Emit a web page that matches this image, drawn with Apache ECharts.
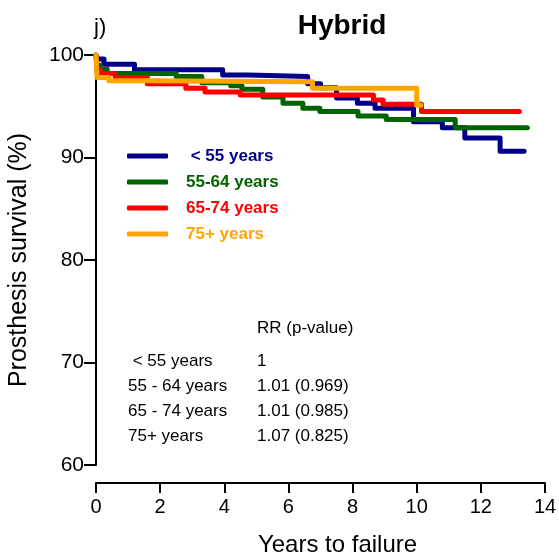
<!DOCTYPE html>
<html>
<head>
<meta charset="utf-8">
<script src="https://cdn.jsdelivr.net/npm/echarts@6/dist/echarts.min.js"></script>
<style>
html,body{margin:0;padding:0;background:#fff;}
#chart{width:559px;height:555px;}
</style>
</head>
<body>
<div id="chart"></div>
<script>
// ---- data ----
const seriesNames = ['< 55 years', '55-64 years', '65-74 years', '75+ years'];
const seriesColors = ['#00008B', '#006400', '#FF0000', '#FFA500'];
const blue = [[0,100],[0.05,99.6],[0.25,99.1],[1.2,98.55],[3.95,98.05],[4.75,97.9],[6.6,97.2],[7.0,96.8],[7.5,95.8],[8.15,95.3],[8.7,94.8],[9.9,93.5],[10.8,92.9],[11.5,91.9],[12.6,90.6],[13.35,90.6]];
const green = [[0,100],[0.03,99.0],[0.12,98.6],[0.35,98.2],[2.5,97.9],[3.3,97.3],[4.2,97.0],[4.55,96.65],[5.2,95.9],[5.83,95.3],[6.45,94.8],[6.98,94.5],[8.17,94.05],[9.05,93.7],[11.2,92.9],[13.45,92.9]];
const red = [[0,100],[0.03,98.5],[0.15,98.2],[0.6,97.8],[1.6,97.2],[2.8,96.75],[3.4,96.4],[4.5,96.1],[8.65,95.6],[8.95,95.2],[10.15,94.5],[13.2,94.5]];
const orange = [[0,100],[0.03,97.8],[0.4,97.5],[1.5,97.4],[6.75,96.75],[10.0,95.1],[10.13,95.1]];
const xTicks = [0,2,4,6,8,10,12,14];
const yTicks = [60,70,80,90,100];
const rrHeader = 'RR (p-value)';
const rrGroups = [' < 55 years', '55 - 64 years', '65 - 74 years', '75+ years'];
const rrValues = ['1', '1.01 (0.969)', '1.01 (0.985)', '1.07 (0.825)'];

const FONT = "'Liberation Sans', Arial, sans-serif";
const chart = echarts.init(document.getElementById('chart'), null, {renderer:'canvas'});
const allData = [blue, green, red, orange];

const rrGraphics = [];
rrGraphics.push({type:'text', left:257, top:320, style:{text:rrHeader, font:'17px ' + FONT, fill:'#000'}});
rrGroups.forEach((g, i) => {
  rrGraphics.push({type:'text', left:128, top:353 + i*24.8, style:{text:g, font:'17px ' + FONT, fill:'#000'}});
  rrGraphics.push({type:'text', left:257, top:353 + i*24.8, style:{text:rrValues[i], font:'17px ' + FONT, fill:'#000'}});
});

chart.setOption({
  animation:false,
  backgroundColor:'#fff',
  textStyle:{fontFamily:FONT},
  title:{text:'Hybrid', left:337, top:7, textAlign:'center',
    textStyle:{fontSize:28, fontWeight:'bold', color:'#000', fontFamily:FONT}},
  graphic:[{type:'text', left:94, top:17, style:{text:'j)', font:'22px ' + FONT, fill:'#000'}}].concat(rrGraphics),
  legend:{
    orient:'vertical', left:127, top:146, padding:0,
    itemWidth:41, itemHeight:5, itemGap:6,
    icon:'roundRect',
    formatter:name => name.startsWith('<') ? ' ' + name : name,
    data:seriesNames.map((n,i)=>({name:n, textStyle:{color:seriesColors[i]}})),
    textStyle:{fontSize:17, fontWeight:'bold', fontFamily:FONT, lineHeight:20, padding:[0,0,0,13]}
  },
  grid:{left:96, right:14, top:55, bottom:90, containLabel:false, outerBoundsMode:'none'},
  xAxis:{
    type:'value', min:0, max:14, interval:2, offset:18,
    name:'Years to failure', nameLocation:'middle', nameGap:50,
    nameTextStyle:{fontSize:24, color:'#000', fontFamily:FONT, padding:[0,0,0,34]},
    axisLine:{lineStyle:{color:'#000', width:2}},
    axisTick:{show:true, length:10, lineStyle:{color:'#000', width:2}},
    axisLabel:{fontSize:20, color:'#000', margin:14, fontFamily:FONT,
      formatter:v => xTicks.includes(v) ? String(v) : ''},
    splitLine:{show:false}
  },
  yAxis:{
    type:'value', min:60, max:100, interval:10,
    name:'Prosthesis survival (%)', nameLocation:'middle', nameGap:64,
    nameTextStyle:{fontSize:25, color:'#000', fontFamily:FONT},
    axisLine:{show:true, lineStyle:{color:'#000', width:2}},
    axisTick:{show:true, length:12, lineStyle:{color:'#000', width:2}},
    axisLabel:{fontSize:21, color:'#000', margin:12, fontFamily:FONT,
      formatter:v => yTicks.includes(v) ? String(v) : ''},
    splitLine:{show:false}
  },
  series: seriesNames.map((n,i)=>({
    name:n, type:'line', step:'end', data:allData[i],
    showSymbol:false, symbol:'none', color:seriesColors[i],
    lineStyle:{width:5, color:seriesColors[i], cap:'round', join:'round'},
    z:2+i
  }))
});
</script>
</body>
</html>
